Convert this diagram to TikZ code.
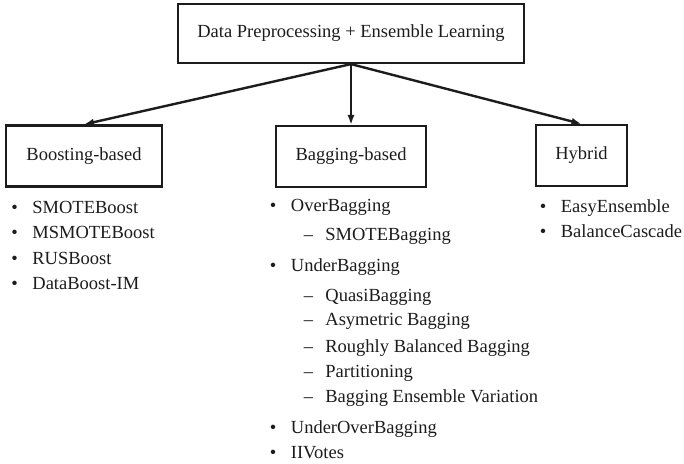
\documentclass[tikz,border=0pt]{standalone}
\usepackage{fontspec}
\setmainfont{Liberation Serif}
\usetikzlibrary{arrows.meta}
\definecolor{ink}{HTML}{1C1C1C}
\newcommand{\itembul}{\makebox[10.5pt][l]{\textbullet}}
\newcommand{\subdash}{\makebox[10.75pt][l]{\textendash}}
\tikzset{
    rootbox/.style={
        draw,
        line width=1.1pt,
        minimum width=173pt,
        minimum height=29.5pt,
        font=\fontsize{9.25}{11}\selectfont
    },
    catbox/.style={
        draw,
        line width=1.1pt,
        minimum height=30.5pt,
        font=\fontsize{9.25}{11}\selectfont
    },
    link/.style={
        -{Latex[length=5pt,width=3.6pt]},
        line width=1.2pt
    },
    listitem/.style={
        anchor=base west,
        inner sep=0pt,
        font=\fontsize{9.25}{11}\selectfont
    }
}
\begin{document}
\begin{tikzpicture}[x=0.5pt,y=-0.5pt,color=ink]

    \useasboundingbox (0,0) rectangle (684,464);

    % Racine
    \node[rootbox]
        (root) at (351,33.5)
        {Data Preprocessing + Ensemble Learning};

    % Categories
    \node[catbox,minimum width=78pt]
        (boost) at (84,156)
        {Boosting-based};

    \node[catbox,minimum width=75pt]
        (bag) at (351,156.5)
        {Bagging-based};

    \node[catbox,minimum width=45.5pt]
        (hyb) at (581.5,155.5)
        {Hybrid};

    % Fleches
    \draw[link] (root.south) -- (boost.north);
    \draw[link] (root.south) -- (bag.north);
    \draw[link] (root.south) -- (hyb.north);

    % Boosting
    \node[listitem] (b1) at (11,214) {\itembul SMOTEBoost};
    \node[listitem] (b2) at (11,239) {\itembul MSMOTEBoost};
    \node[listitem] (b3) at (11,265) {\itembul RUSBoost};
    \node[listitem] (b4) at (11,290) {\itembul DataBoost-IM};

    % Bagging
    \node[listitem] (g1) at (269.5,212) {\itembul OverBagging};
    \node[listitem] (g2) at (303.5,241) {\subdash SMOTEBagging};
    \node[listitem] (g3) at (269.5,271) {\itembul UnderBagging};
    \node[listitem] (g4) at (303.5,301) {\subdash QuasiBagging};
    \node[listitem] (g5) at (303.5,325) {\subdash Asymetric Bagging};
    \node[listitem] (g6) at (303.5,352) {\subdash Roughly Balanced Bagging};
    \node[listitem] (g7) at (303.5,377) {\subdash Partitioning};
    \node[listitem] (g8) at (303.5,402) {\subdash Bagging Ensemble Variation};
    \node[listitem] (g9) at (269.5,433) {\itembul UnderOverBagging};
    \node[listitem] (g10) at (269.5,458) {\itembul IIVotes};

    % Hybride
    \node[listitem] (h1) at (539.5,213) {\itembul EasyEnsemble};
    \node[listitem] (h2) at (539.5,238) {\itembul BalanceCascade};

\end{tikzpicture}
\end{document}
